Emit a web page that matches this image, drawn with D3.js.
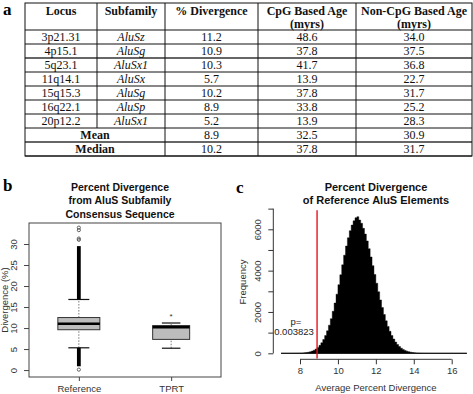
<!DOCTYPE html>
<html>
<head>
<meta charset="utf-8">
<script src="https://cdn.jsdelivr.net/npm/d3@7"></script>
<style>
  body { margin: 0; background: #ffffff; }
  svg { display: block; }
  .serif { font-family: "Liberation Serif", "DejaVu Serif", serif; }
  .sans { font-family: "Liberation Sans", Arial, sans-serif; }
</style>
</head>
<body>
<svg id="fig" width="473" height="394"></svg>
<script>
// ---- panel a: table values
const loci = ["3p21.31", "4p15.1", "5q23.1", "11q14.1", "15q15.3", "16q22.1", "20p12.2"];
const subfamilies = ["AluSz", "AluSg", "AluSx1", "AluSx", "AluSg", "AluSp", "AluSx1"];
const divergence = [11.2, 10.9, 10.3, 5.7, 10.2, 8.9, 5.2];
const cpgAge = [48.6, 37.8, 41.7, 13.9, 37.8, 33.8, 13.9];
const nonCpgAge = [34.0, 37.5, 36.8, 22.7, 31.7, 25.2, 28.3];
const summaryLabels = ["Mean", "Median"];
const summaryDivergence = [8.9, 10.2];
const summaryCpg = [32.5, 37.8];
const summaryNonCpg = [30.9, 31.7];
const headers = [["Locus"], ["Subfamily"], ["% Divergence"], ["CpG Based Age", "(myrs)"], ["Non-CpG Based Age", "(myrs)"]];

// ---- panel b: boxplot values (low whisker, Q1, median, Q3, high whisker)
const boxGroups = ["Reference", "TPRT"];
const boxStats = [[5.3, 9.6, 11.0, 12.5, 16.8], [5.2, 7.3, 10.2, 10.6, 11.2]];
const refDenseOutliers = [[0.9, 5.3], [16.8, 29.5]];
const refOutliers = [0.1, 31.0, 31.3, 33.3, 33.9];
const tprtStar = 13.0;
const divTicks = [0, 5, 10, 15, 20, 25, 30];

// ---- panel c: histogram of average percent divergence
const histStart = 7.0;
const histBinWidth = 0.1;
const histCounts = [
  0, 0, 0, 0, 1, 1, 2, 3, 4, 6,
  10, 15, 23, 35, 52, 75, 107, 151, 209, 286,
  384, 510, 667, 859, 1089, 1362, 1677, 2034, 2432, 2863,
  3323, 3799, 4280, 4748, 5191, 5591, 5934, 6205, 6410, 6560,
  6610, 6450, 6290, 6046, 5767, 5437, 5064, 4662, 4242, 3814,
  3389, 2976, 2582, 2214, 1877, 1572, 1302, 1065, 861, 688,
  543, 424, 327, 249, 187, 140, 103, 75, 54, 38,
  27, 19, 13, 9, 6, 4, 2, 2, 1, 1,
  0, 0, 0, 0, 0, 0, 0, 0, 0, 0, 0, 0, 0, 0, 0, 0, 0, 0
];
const freqTicks = [0, 1000, 2000, 3000, 4000, 5000, 6000, 7000];
const freqLabels = [0, 2000, 4000, 6000];
const pctTicks = [8, 10, 12, 14, 16];
const tprtMean = 8.9;
const pValueText = "0.003823";

const svg = d3.select("#fig");
svg.append("rect").attr("width", 473).attr("height", 394).attr("fill", "#fff");

// panel letters
[["a", 3, 15], ["b", 3, 191], ["c", 236, 193]].forEach(function(p) {
  svg.append("text").attr("class", "serif").attr("x", p[1]).attr("y", p[2])
    .attr("font-size", 17).attr("font-weight", "bold").text(p[0]);
});

// ================= table =================
const colX = [25, 97, 165, 258, 356, 472];
const tableTop = 3, headBottom = 30, rowH = 14;
const nRows = loci.length + summaryLabels.length;
const tableBottom = headBottom + nRows * rowH;
const tbl = svg.append("g").attr("class", "serif").attr("fill", "#111");

const rows = loci.map(function(l, i) {
  return [l, subfamilies[i], divergence[i].toFixed(1), cpgAge[i].toFixed(1), nonCpgAge[i].toFixed(1)];
});
summaryLabels.forEach(function(s, i) {
  rows.push([s, null, summaryDivergence[i].toFixed(1), summaryCpg[i].toFixed(1), summaryNonCpg[i].toFixed(1)]);
});

for (let r = 0; r <= nRows; r++) {
  const y = headBottom + r * rowH;
  const thick = (r === 2 || r === 8);
  tbl.append("line").attr("x1", colX[0]).attr("x2", colX[5]).attr("y1", y).attr("y2", y)
    .attr("stroke", thick ? "#666" : "#111").attr("stroke-width", thick ? 1.8 : 1);
}
tbl.append("rect").attr("x", colX[0]).attr("y", tableTop).attr("width", colX[5] - colX[0])
  .attr("height", tableBottom - tableTop).attr("fill", "none").attr("stroke", "#111");
colX.slice(1, 5).forEach(function(x, i) {
  const yEnd = i === 0 ? headBottom + loci.length * rowH : tableBottom;
  tbl.append("line").attr("x1", x).attr("x2", x).attr("y1", tableTop).attr("y2", yEnd)
    .attr("stroke", "#111");
});

headers.forEach(function(h, c) {
  const cx = (colX[c] + colX[c + 1]) / 2;
  h.forEach(function(t, k) {
    tbl.append("text").attr("x", cx).attr("y", 15 + k * 12.5).attr("text-anchor", "middle")
      .attr("font-size", 12).attr("font-weight", "bold").text(t);
  });
});

rows.forEach(function(row, r) {
  const cy = headBottom + r * rowH + rowH / 2 + 4.2;
  row.forEach(function(v, c) {
    if (v === null) return;
    let cx = (colX[c] + colX[c + 1]) / 2;
    const summary = r >= loci.length;
    if (summary && c === 0) cx = (colX[0] + colX[2]) / 2;
    tbl.append("text").attr("x", cx).attr("y", cy).attr("text-anchor", "middle")
      .attr("font-size", 12)
      .attr("font-style", c === 1 ? "italic" : null)
      .attr("font-weight", summary && c === 0 ? "bold" : null)
      .text(v);
  });
});

// ================= panel b: boxplot =================
const bx = d3.scaleLinear().domain([0.46, 2.54]).range([29, 221]);
const by = d3.scaleLinear().domain([-1.65, 35]).range([377, 223]);
const gb = svg.append("g").attr("class", "sans");

["Percent Divergence", "from AluS Subfamily", "Consensus Sequence"].forEach(function(t, i) {
  gb.append("text").attr("x", 120).attr("y", 191 + i * 13.3).attr("text-anchor", "middle")
    .attr("font-size", 10.5).attr("font-weight", "bold").attr("fill", "#111").text(t);
});

gb.append("rect").attr("x", bx.range()[0]).attr("y", by.range()[1])
  .attr("width", bx.range()[1] - bx.range()[0]).attr("height", by.range()[0] - by.range()[1])
  .attr("fill", "none").attr("stroke", "#444");

const yAxB = gb.append("g").attr("transform", "translate(" + bx.range()[0] + ",0)")
  .call(d3.axisLeft(by).tickValues(divTicks).tickSize(5).tickPadding(0).tickFormat(d3.format("d")));
yAxB.select(".domain").remove();
yAxB.selectAll("line").attr("stroke", "#444");
yAxB.selectAll("text").attr("transform", "rotate(-90)").attr("x", 0).attr("y", -12)
  .attr("dy", 0).attr("text-anchor", "middle").attr("font-size", 9.5).attr("fill", "#333")
  .attr("font-family", "Liberation Sans, Arial, sans-serif");
gb.append("text").attr("transform", "translate(8,300) rotate(-90)").attr("text-anchor", "middle")
  .attr("font-size", 9.5).attr("fill", "#333").text("Divergence (%)");

const xAxB = gb.append("g").attr("transform", "translate(0," + by.range()[0] + ")")
  .call(d3.axisBottom(bx).tickValues([1, 2]).tickSize(4).tickPadding(4)
    .tickFormat(function(d) { return boxGroups[d - 1]; }));
xAxB.select(".domain").remove();
xAxB.selectAll("line").attr("stroke", "#444");
xAxB.selectAll("text").attr("font-size", 9.5).attr("fill", "#333")
  .attr("font-family", "Liberation Sans, Arial, sans-serif");

const boxHalf = [21, 18.5];
boxStats.forEach(function(s, i) {
  const cx = bx(i + 1);
  const hw = boxHalf[i];
  [[s[0], s[1]], [s[3], s[4]]].forEach(function(w) {
    gb.append("line").attr("x1", cx).attr("x2", cx).attr("y1", by(w[0])).attr("y2", by(w[1]))
      .attr("stroke", "#777").attr("stroke-dasharray", "1.5,1.5");
  });
  [s[0], s[4]].forEach(function(v) {
    gb.append("line").attr("x1", cx - hw / 2).attr("x2", cx + hw / 2).attr("y1", by(v)).attr("y2", by(v))
      .attr("stroke", "#111").attr("stroke-width", 1.2);
  });
  gb.append("rect").attr("x", cx - hw).attr("width", hw * 2).attr("y", by(s[3]))
    .attr("height", by(s[1]) - by(s[3])).attr("fill", "#bdbdbd").attr("stroke", "#333");
  gb.append("line").attr("x1", cx - hw).attr("x2", cx + hw).attr("y1", by(s[2])).attr("y2", by(s[2]))
    .attr("stroke", "#000").attr("stroke-width", 2.5);
});

refDenseOutliers.forEach(function(r) {
  gb.append("line").attr("x1", bx(1)).attr("x2", bx(1)).attr("y1", by(r[0])).attr("y2", by(r[1]))
    .attr("stroke", "#000").attr("stroke-width", 3.8);
});
refOutliers.forEach(function(v) {
  gb.append("circle").attr("cx", bx(1)).attr("cy", by(v)).attr("r", 1.6)
    .attr("fill", "none").attr("stroke", "#555").attr("stroke-width", 0.9);
});
gb.append("text").attr("x", bx(2)).attr("y", by(tprtStar) + 4).attr("text-anchor", "middle")
  .attr("font-size", 8).attr("fill", "#333").text("*");

// ================= panel c: histogram =================
const cx = d3.scaleLinear().domain([8, 16]).range([300, 451.7]);
const cy = d3.scaleLinear().domain([0, 6000]).range([353.3, 229.3]);
const gc = svg.append("g").attr("class", "sans");

["Percent Divergence", "of Reference AluS Elements"].forEach(function(t, i) {
  gc.append("text").attr("x", 376).attr("y", 191 + i * 13.3).attr("text-anchor", "middle")
    .attr("font-size", 11).attr("font-weight", "bold").attr("fill", "#111").text(t);
});

const bins = histCounts.map(function(c, i) {
  return { x0: histStart + i * histBinWidth, n: c };
});
bins.push({ x0: histStart + histCounts.length * histBinWidth, n: 0 });
gc.append("line").attr("x1", cx(bins[0].x0)).attr("x2", cx(bins[bins.length - 1].x0))
  .attr("y1", cy(0)).attr("y2", cy(0)).attr("stroke", "#111");
const histArea = d3.area()
  .curve(d3.curveStepAfter)
  .x(function(d) { return cx(d.x0); })
  .y0(cy(0))
  .y1(function(d) { return cy(d.n); });
gc.append("path").datum(bins).attr("d", histArea).attr("fill", "#000")
  .attr("stroke", "#000").attr("stroke-width", 0.4);

const yAxC = gc.append("g").attr("transform", "translate(273.3,0)")
  .call(d3.axisLeft(cy).tickValues(freqTicks).tickSize(5).tickPadding(0)
    .tickFormat(function(d) { return freqLabels.indexOf(d) >= 0 ? d : ""; }));
yAxC.select(".domain").attr("d", "M0," + cy(0) + "V" + cy(7000)).attr("stroke", "#333");
yAxC.selectAll("line").attr("stroke", "#333");
yAxC.selectAll("text").attr("transform", "rotate(-90)").attr("x", 0).attr("y", -12)
  .attr("dy", 0).attr("text-anchor", "middle").attr("font-size", 9.5).attr("fill", "#333")
  .attr("font-family", "Liberation Sans, Arial, sans-serif");
gc.append("text").attr("transform", "translate(246,282) rotate(-90)").attr("text-anchor", "middle")
  .attr("font-size", 9.5).attr("fill", "#333").text("Frequency");

const xAxC = gc.append("g").attr("transform", "translate(0,359.3)")
  .call(d3.axisBottom(cx).tickValues(pctTicks).tickSize(5).tickPadding(3).tickFormat(d3.format("d")));
xAxC.select(".domain").attr("d", "M" + cx(8) + ",0H" + cx(16)).attr("stroke", "#333");
xAxC.selectAll("line").attr("stroke", "#333");
xAxC.selectAll("text").attr("font-size", 9.5).attr("fill", "#333")
  .attr("font-family", "Liberation Sans, Arial, sans-serif");
gc.append("text").attr("x", 376).attr("y", 391).attr("text-anchor", "middle")
  .attr("font-size", 9.5).attr("fill", "#333").text("Average Percent Divergence");

gc.append("line").attr("x1", cx(tprtMean)).attr("x2", cx(tprtMean))
  .attr("y1", cy(6920)).attr("y2", cy(-250)).attr("stroke", "#e8141c").attr("stroke-width", 1.4);
gc.append("text").attr("x", 296).attr("y", 325).attr("text-anchor", "middle")
  .attr("font-size", 9.5).attr("fill", "#222").text("p=");
gc.append("text").attr("x", 294).attr("y", 335).attr("text-anchor", "middle")
  .attr("font-size", 9.5).attr("fill", "#222").text(pValueText);
</script>
</body>
</html>
